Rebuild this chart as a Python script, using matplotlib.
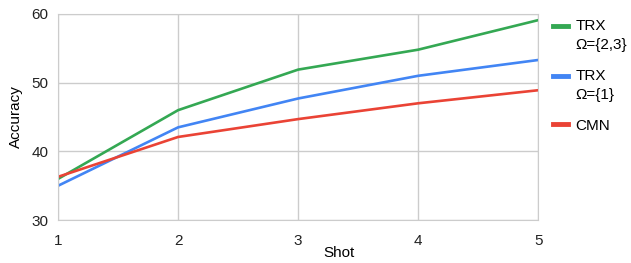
import matplotlib.pyplot as plt
from matplotlib.legend_handler import HandlerLine2D

plt.rcParams['font.family'] = ['Liberation Sans', 'DejaVu Sans']

shots = [1, 2, 3, 4, 5]
trx_23 = [36.0, 46.0, 51.9, 54.8, 59.1]
trx_1 = [35.0, 43.5, 47.7, 51.0, 53.3]
cmn = [36.3, 42.1, 44.7, 47.0, 48.9]


class TopLine(HandlerLine2D):
    # put the swatch next to the first line of a two-line label
    def __init__(self, lift=0, **kw):
        super().__init__(**kw)
        self.lift = lift

    def create_artists(self, legend, orig_handle, xdescent, ydescent,
                       width, height, fontsize, trans):
        arts = super().create_artists(legend, orig_handle, xdescent, ydescent,
                                      width, height, fontsize, trans)
        for a in arts:
            a.set_ydata([y + self.lift * fontsize for y in a.get_ydata()])
        return arts


fig = plt.figure(figsize=(6.31, 2.63), dpi=100)
ax = fig.add_axes([0.092, 0.163, 0.761, 0.784])

l1, = ax.plot(shots, trx_23, color='#34a853', lw=1.9, label='TRX\nΩ={2,3}')
l2, = ax.plot(shots, trx_1, color='#4285f4', lw=1.9, label='TRX\nΩ={1}')
l3, = ax.plot(shots, cmn, color='#ea4335', lw=1.9, label='CMN')

ax.set_xlim(1, 5)
ax.set_ylim(30, 60)
ax.set_xticks(shots)
ax.set_yticks([30, 40, 50, 60])
ax.grid(True, color='#cccccc', lw=1)
ax.set_axisbelow(True)
for s in ax.spines.values():
    s.set_color('#cccccc')
ax.tick_params(length=0, labelsize=11, colors='#222222')
ax.tick_params(axis='x', pad=10)
ax.tick_params(axis='y', pad=7)
ax.set_xlabel('Shot', fontsize=11)
ax.xaxis.set_label_coords(0.586, -0.125)
ax.set_ylabel('Accuracy', fontsize=11, labelpad=6)

leg = fig.legend(loc='upper left', bbox_to_anchor=(0.867, 0.95), frameon=False,
                 fontsize=11, handlelength=1.0, handletextpad=0.45,
                 labelspacing=1.1, borderaxespad=0,
                 handler_map={l1: TopLine(0.65), l2: TopLine(0.65)})
for t in leg.get_texts():
    t.set_linespacing(1.45)
for l in leg.get_lines():
    l.set_linewidth(3.5)

fig.savefig('out.png', dpi=100)
